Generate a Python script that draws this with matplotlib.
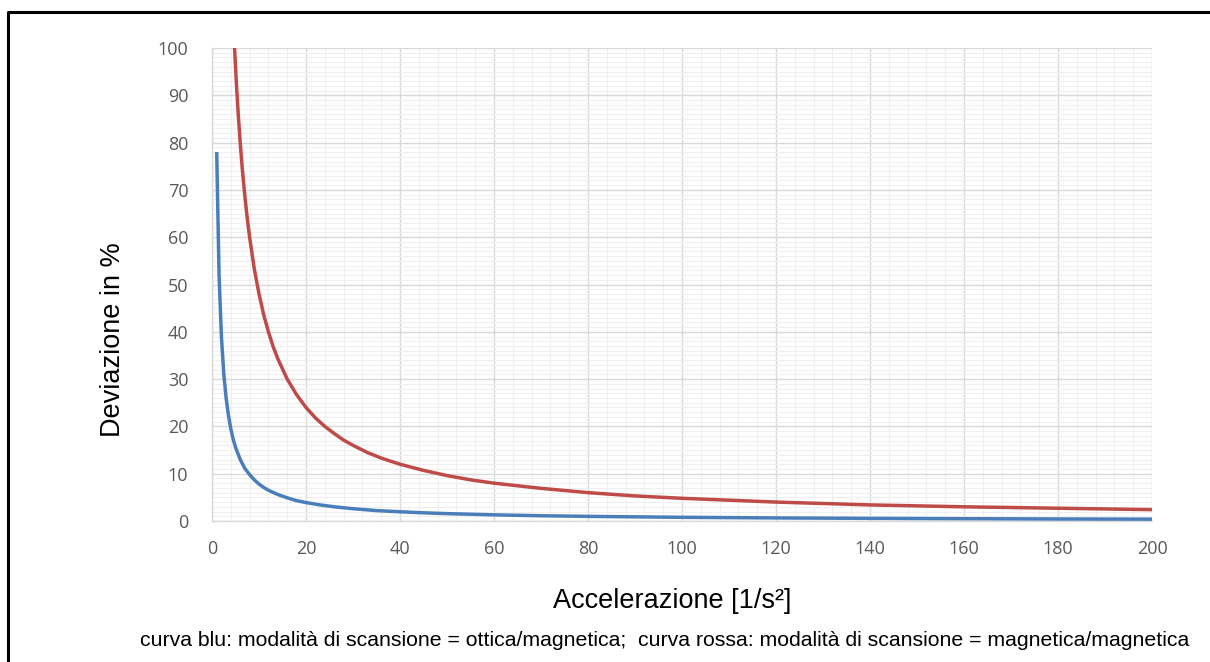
import numpy as np
import matplotlib
matplotlib.use("Agg")
import matplotlib.pyplot as plt
from matplotlib.lines import Line2D
from matplotlib.ticker import MultipleLocator

# values
blue_x = [1, 1.5, 2, 2.5, 3, 3.5, 4, 4.5, 5, 6, 7, 8, 9, 10, 11, 12, 14, 16, 18, 20, 23, 26, 30, 35,
          40, 45, 50, 60, 70, 80, 100, 120, 140, 160, 180, 200]
blue_y = [78, 52, 39, 31.2, 26, 22.3, 19.5, 17.3, 15.6, 13, 11.1, 9.8, 8.7, 7.8, 7.1, 6.5, 5.6, 4.9, 4.3,
          3.9, 3.4, 3.0, 2.6, 2.2, 1.95, 1.73, 1.56, 1.3, 1.11, 0.98, 0.78, 0.65, 0.56, 0.49, 0.43, 0.39]

red_x = [4.8, 5.2, 5.6, 6, 6.5, 7, 7.5, 8, 9, 10, 11, 12, 13, 14, 16, 18, 20, 22, 24, 26, 28, 30, 33,
         36, 40, 45, 50, 55, 60, 70, 80, 90, 100, 120, 140, 160, 180, 200]
red_y = [100, 92.3, 85.7, 80, 73.8, 68.6, 64, 60, 53.3, 48, 43.6, 40, 36.9, 34.3, 30, 26.7, 24, 21.8,
         20, 18.5, 17.1, 16, 14.5, 13.3, 12, 10.7, 9.6, 8.7, 8, 6.9, 6, 5.3, 4.8, 4, 3.4, 3, 2.7, 2.4]

x_label = "Accelerazione [1/s²]"
y_label = "Deviazione in %"
caption = "curva blu: modalità di scansione = ottica/magnetica;  curva rossa: modalità di scansione = magnetica/magnetica"

W, H = 1210, 662
fig = plt.figure(figsize=(W / 100, H / 100), dpi=100)
ax = fig.add_axes([212 / W, 1 - 521 / H, (1152 - 212) / W, (521 - 48) / H])

ax.plot(blue_x, blue_y, color="#4a7ebb", lw=2.5, solid_capstyle="butt", zorder=3)
ax.plot(red_x, red_y, color="#be4b48", lw=2.5, solid_capstyle="butt", zorder=3)

ax.set_xlim(0, 200)
ax.set_ylim(0, 100)
ax.xaxis.set_major_locator(MultipleLocator(20))
ax.yaxis.set_major_locator(MultipleLocator(10))
ax.xaxis.set_minor_locator(MultipleLocator(4))
ax.yaxis.set_minor_locator(MultipleLocator(1))
ax.grid(which="major", color="#d9d9d9", lw=1.0)
ax.grid(which="minor", color="#efefef", lw=0.8)
ax.set_axisbelow(True)

for side in ["top", "right"]:
    ax.spines[side].set_visible(False)
for side in ["left", "bottom"]:
    ax.spines[side].set_color("#d9d9d9")
    ax.spines[side].set_linewidth(1.0)

ax.tick_params(which="both", length=0)
ax.tick_params(axis="both", labelsize=13, labelcolor="#595959")
ax.tick_params(axis="x", pad=14)
ax.tick_params(axis="y", pad=17)
for lbl in ax.get_xticklabels() + ax.get_yticklabels():
    lbl.set_family("Open Sans")

fig.text(113 / W, 1 - 340 / H, y_label, rotation=90, ha="center", va="center",
         fontsize=19.5, family="Liberation Sans", color="black")
fig.text(672 / W, 1 - 601 / H, x_label, ha="center", va="center",
         fontsize=19.5, family="Liberation Sans", color="black")
fig.text(665 / W, 1 - 641 / H, caption, ha="center", va="center",
         fontsize=15.3, family="Liberation Sans", color="black")

# outer frame (top and left edges)
fig.add_artist(Line2D([8 / W, 8 / W, 1.0], [0.0, 1 - 12 / H, 1 - 12 / H],
                      transform=fig.transFigure, color="black", lw=2.2))

fig.savefig("out.png", dpi=100)
